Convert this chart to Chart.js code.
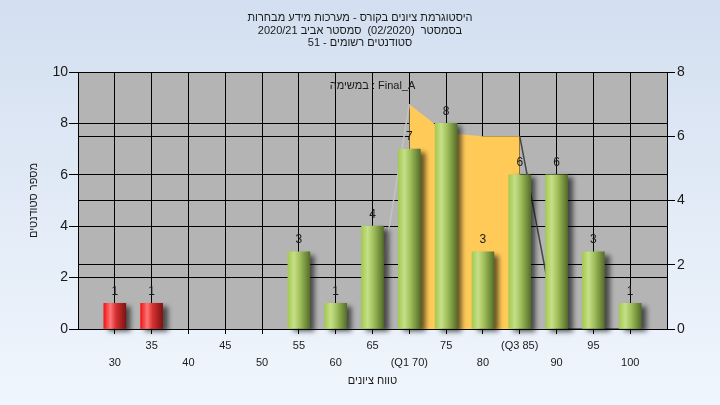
<!DOCTYPE html>
<html><head><meta charset="utf-8">
<script src="https://cdn.jsdelivr.net/npm/chart.js@4"></script>
<style>html,body{margin:0;padding:0;width:720px;height:405px;overflow:hidden;background:#e2ecf8}
#wrap{width:720px;height:405px;position:relative}</style></head>
<body><div id="wrap"><canvas id="c" width="720" height="405"></canvas></div>
<script>
const categories = [30,35,40,45,50,55,60,65,70,75,80,85,90,95,100];
const tickLabels = ['30','35','40','45','50','55','60','65','(Q1 70)','75','80','(Q3 85)','90','95','100'];
const studentCounts = [1,1,0,0,0,3,1,4,7,8,3,6,6,3,1];
const failingBelow = 55;
const curveX = [65,70,75,80,85,90,95,100];
const curveY = [0,7,6.1,6,6,0,0,0];
const q1 = 70, q3 = 85;
const titleLines = ['היסטוגרמת ציונים בקורס - מערכות מידע מבחרות','בסמסטר  (02/2020)  סמסטר אביב 2020/21','סטודנטים רשומים - 51'];
const taskLabel = 'Final_A : במשימה';
const yTitle = 'מספר סטודנטים';
const xTitle = 'טווח ציונים';

const FONT = "'Liberation Sans', Arial, 'DejaVu Sans', sans-serif";
Chart.defaults.font.family = FONT;
Chart.defaults.color = '#1a1a1a';

function barGradient(ctx) {
  const chart = ctx.chart;
  const xs = chart.scales && chart.scales.x;
  const v = categories[ctx.dataIndex];
  const fail = v < failingBelow;
  if (!xs || !chart.chartArea) return fail ? '#e02020' : '#9cc24c';
  const cx = xs.getPixelForValue(v);
  const g = chart.ctx.createLinearGradient(cx - 11, 0, cx + 11, 0);
  if (fail) {
    g.addColorStop(0, '#f01515'); g.addColorStop(0.3, '#ff7676');
    g.addColorStop(0.55, '#d83030'); g.addColorStop(1, '#7c1414');
  } else {
    g.addColorStop(0, '#a4ca52'); g.addColorStop(0.28, '#c6df88');
    g.addColorStop(0.55, '#a0bf5a'); g.addColorStop(1, '#556f2a');
  }
  return g;
}

const bgPlugin = {
  id: 'bgPlugin',
  beforeDraw(chart) {
    const {ctx, chartArea: a} = chart;
    ctx.save();
    const g = ctx.createLinearGradient(0, 0, 0, chart.height);
    g.addColorStop(0, '#d3dff0'); g.addColorStop(1, '#f0f6fd');
    ctx.fillStyle = g; ctx.fillRect(0, 0, chart.width, chart.height);
    ctx.fillStyle = '#b4b4b4';
    ctx.fillRect(a.left, a.top, a.right - a.left, a.bottom - a.top);
    ctx.restore();
  }
};

const shadowPlugin = {
  id: 'shadowPlugin',
  beforeDatasetDraw(chart, args) {
    if (args.meta.type === 'bar') {
      const c = chart.ctx; c.save();
      c.shadowColor = 'rgba(0,0,0,0.6)'; c.shadowBlur = 5; c.shadowOffsetX = 5; c.shadowOffsetY = 3;
    }
  },
  afterDatasetDraw(chart, args) {
    if (args.meta.type === 'bar') chart.ctx.restore();
  }
};

const textPlugin = {
  id: 'textPlugin',
  afterDraw(chart) {
    const ctx = chart.ctx, a = chart.chartArea;
    ctx.save();
    ctx.fillStyle = '#1a1a1a';
    ctx.textAlign = 'center'; ctx.textBaseline = 'middle';
    const meta = chart.getDatasetMeta(0);
    ctx.font = '12px ' + FONT;
    meta.data.forEach((el, i) => {
      const v = studentCounts[i];
      if (v > 0) ctx.fillText(String(v), el.x, el.y - 12);
    });
    ctx.direction = 'rtl';
    ctx.font = '11px ' + FONT;
    titleLines.forEach((t, i) => ctx.fillText(t, 360, 18 + i * 12.5));
    ctx.fillText(taskLabel, (a.left + a.right) / 2, 86);
    ctx.fillText(xTitle, (a.left + a.right) / 2, 381);
    ctx.translate(34, (a.top + a.bottom) / 2);
    ctx.rotate(-Math.PI / 2);
    ctx.fillText(yTitle, 0, 0);
    ctx.restore();
  }
};

const barData = categories.map((x, i) => ({x, y: studentCounts[i] > 0 ? studentCounts[i] : null}));
const curvePts = curveX.map((x, i) => ({x, y: curveY[i]}));

new Chart(document.getElementById('c'), {
  type: 'bar',
  data: {
    datasets: [
      { type: 'bar', data: barData, yAxisID: 'y', backgroundColor: barGradient, borderWidth: 0,
        barThickness: 22, order: 1, clip: false },
      { type: 'line', data: curvePts.filter(p => p.x <= q1), yAxisID: 'y2', borderColor: '#c3c3c3',
        borderWidth: 1.5, pointRadius: 0, fill: false, tension: 0, order: 2 },
      { type: 'line', data: curvePts.filter(p => p.x >= q3), yAxisID: 'y2', borderColor: '#474747',
        borderWidth: 1.5, pointRadius: 0, fill: false, tension: 0, order: 2 },
      { type: 'line', data: curvePts.filter(p => p.x >= q1 && p.x <= q3), yAxisID: 'y2',
        backgroundColor: '#ffca58', borderColor: '#ffca58', borderWidth: 0, pointRadius: 0,
        fill: 'origin', tension: 0, order: 3 }
    ]
  },
  options: {
    responsive: false, animation: false,
    layout: { padding: { top: 72, left: 0, right: 0, bottom: 0 } },
    plugins: { legend: { display: false }, tooltip: { enabled: false }, title: { display: false } },
    scales: {
      x: {
        type: 'linear', min: 25, max: 105, offset: false,
        afterBuildTicks(s) { s.ticks = categories.map(v => ({value: v})); },
        afterFit(s) { s.height = 76; },
        grid: { offset: false, color: '#000', lineWidth: 1, tickLength: 5, tickColor: '#000' },
        border: { color: '#000', width: 1 },
        ticks: {
          autoSkip: false, maxRotation: 0, minRotation: 0, padding: 3, color: '#1a1a1a',
          font: { size: 11, lineHeight: '17px' },
          callback(value) {
            const i = categories.indexOf(value);
            if (i < 0) return '';
            return i % 2 === 0 ? ['', tickLabels[i]] : [tickLabels[i]];
          }
        }
      },
      y: {
        position: 'left', min: 0, max: 10,
        afterFit(s) { s.width = 78; },
        grid: { color: '#000', lineWidth: 1, tickLength: 9, tickColor: '#000' },
        border: { color: '#000', width: 1 },
        ticks: { stepSize: 2, padding: 1, font: { size: 14 }, color: '#1a1a1a' }
      },
      y2: {
        position: 'right', min: 0, max: 8,
        afterFit(s) { s.width = 53; },
        grid: { color: '#000', lineWidth: 1, tickLength: 8, tickColor: '#000' },
        border: { color: '#000', width: 1 },
        ticks: { stepSize: 2, padding: 2, font: { size: 14 }, color: '#1a1a1a' }
      }
    }
  },
  plugins: [bgPlugin, shadowPlugin, textPlugin]
});
</script></body></html>
